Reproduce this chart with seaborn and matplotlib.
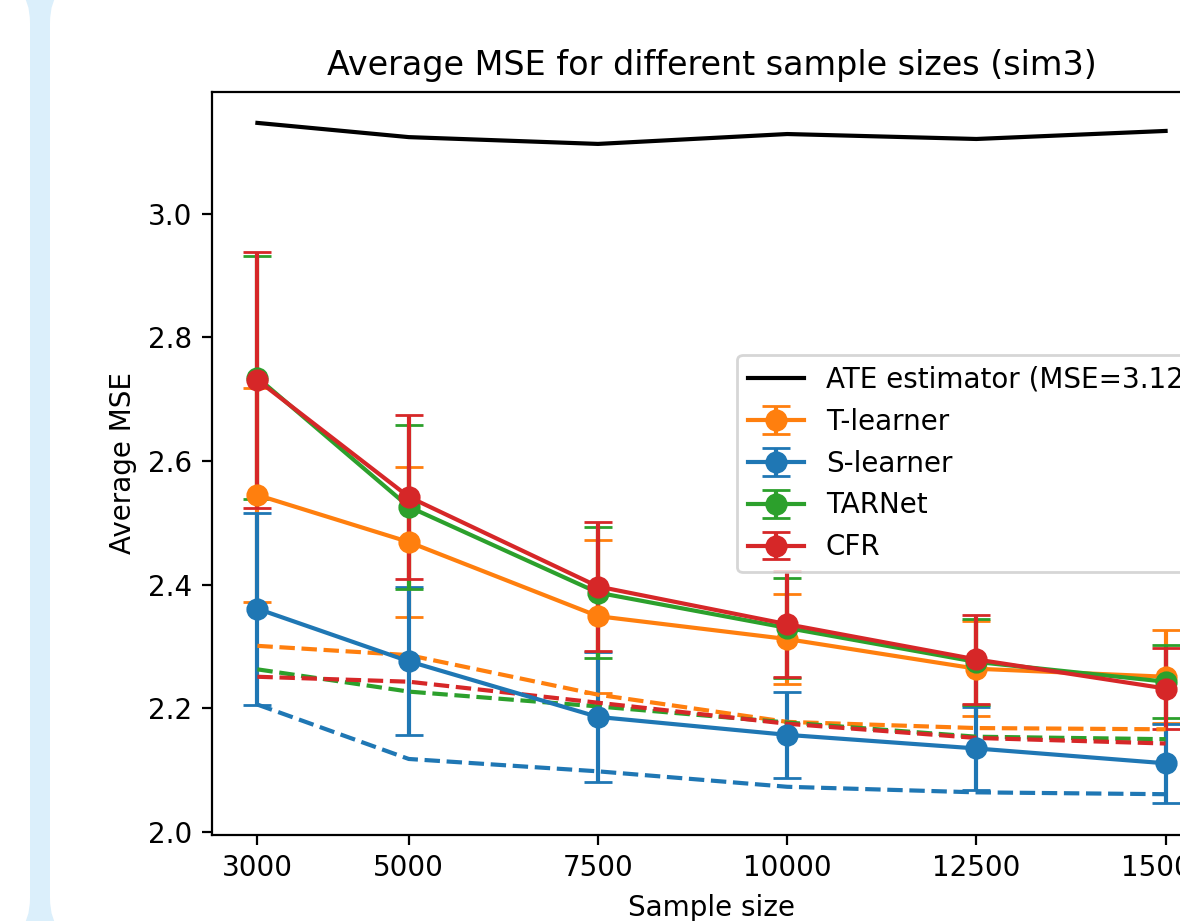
import matplotlib
matplotlib.use("Agg")
import matplotlib.pyplot as plt
import seaborn as sns
from matplotlib.patches import FancyBboxPatch
from matplotlib.transforms import IdentityTransform

# Sample sizes on the x axis
sizes = [3000, 5000, 7500, 10000, 12500, 15000]

# ATE estimator baseline
ate_mse = [3.147, 3.124, 3.113, 3.129, 3.121, 3.134]
ate_label = "ATE estimator (MSE=3.12)"

# Mean MSE and error bar half-widths per learner
t_mean = [2.545, 2.469, 2.349, 2.312, 2.264, 2.251]
t_err = [0.173, 0.121, 0.124, 0.073, 0.077, 0.075]
s_mean = [2.361, 2.276, 2.186, 2.157, 2.135, 2.111]
s_err = [0.155, 0.120, 0.105, 0.069, 0.067, 0.064]
tar_mean = [2.735, 2.526, 2.387, 2.330, 2.275, 2.243]
tar_err = [0.196, 0.133, 0.106, 0.081, 0.070, 0.059]
cfr_mean = [2.731, 2.542, 2.397, 2.336, 2.279, 2.232]
cfr_err = [0.207, 0.133, 0.105, 0.086, 0.072, 0.066]

# Dashed reference curves per learner
t_dash = [2.301, 2.286, 2.222, 2.178, 2.168, 2.166]
s_dash = [2.206, 2.118, 2.098, 2.073, 2.064, 2.061]
tar_dash = [2.263, 2.227, 2.203, 2.177, 2.154, 2.150]
cfr_dash = [2.251, 2.243, 2.209, 2.175, 2.152, 2.143]

learners = ["T-learner", "S-learner", "TARNet", "CFR"]

pal = sns.color_palette("tab10")
colors = {"T-learner": pal[1], "S-learner": pal[0], "TARNet": pal[2], "CFR": pal[3]}

fig = plt.figure(figsize=(5.9, 4.605), dpi=200)
fig.patch.set_facecolor("#dbeffb")

# white rounded panels of the page the chart sits on
for x0, w in [(-200, 230), (50, 1400)]:
    panel = FancyBboxPatch((x0, -22), w, 965, boxstyle="round,pad=0,rounding_size=45",
                           facecolor="white", edgecolor="none",
                           transform=IdentityTransform(), zorder=-5)
    fig.patches.append(panel)

ax = fig.add_axes([212 / 1180, 86 / 921, 999 / 1180, 743 / 921])

sns.lineplot(x=sizes, y=ate_mse, color="black", label=ate_label, ax=ax)

means = [t_mean, s_mean, tar_mean, cfr_mean]
errs = [t_err, s_err, tar_err, cfr_err]
for name, m, e in zip(learners, means, errs):
    ax.errorbar(sizes, m, yerr=e, fmt="-o", capsize=5, markersize=7,
                color=colors[name], label=name)

dashes = [t_dash, s_dash, tar_dash, cfr_dash]
for name, d in zip(learners, dashes):
    sns.lineplot(x=sizes, y=d, color=colors[name], linestyle="--", ax=ax, legend=False)

ax.set_xlim(2400, 15600)
ax.set_ylim(1.995, 3.197)
ax.set_xticks(sizes)
ax.set_xlabel("Sample size")
ax.set_ylabel("Average MSE")
ax.set_title("Average MSE for different sample sizes (sim3)")
ax.legend(loc="center left", bbox_to_anchor=(0.5255, 0.5), borderaxespad=0)

fig.savefig("out.png", dpi=200)
